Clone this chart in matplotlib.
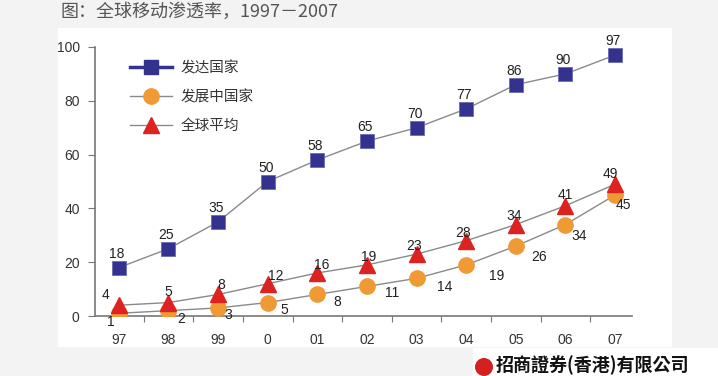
import matplotlib
matplotlib.use("Agg")
import matplotlib.pyplot as plt
from matplotlib.lines import Line2D
from matplotlib.patches import Rectangle, Ellipse

# data
years = ["97", "98", "99", "0", "01", "02", "03", "04", "05", "06", "07"]
developed = [18, 25, 35, 50, 58, 65, 70, 77, 86, 90, 97]
developing = [1, 2, 3, 5, 8, 11, 14, 19, 26, 34, 45]
world = [4, 5, 8, 12, 16, 19, 23, 28, 34, 41, 49]
series_names = ["发达国家", "发展中国家", "全球平均"]
title = "图：全球移动渗透率，1997－2007"
company = "招商證券(香港)有限公司"

NAVY = "#33338f"
ORANGE = "#f09a36"
RED = "#dd2222"
LINE = "#8a8a8a"

plt.rcParams["font.family"] = ["Liberation Sans", "Noto Sans CJK SC", "DejaVu Sans"]

fig = plt.figure(figsize=(7.18, 3.76), dpi=100)
fig.patch.set_facecolor("#f3f3f3")
W, H = 718.0, 376.0

# white panels behind the chart and the logo
fig.add_artist(Rectangle((58 / W, 1 - 347 / H), (672 - 58) / W, (347 - 28) / H,
                         transform=fig.transFigure, facecolor="white",
                         edgecolor="none", zorder=-5))
fig.add_artist(Rectangle((473 / W, 0), (718 - 473) / W, (376 - 348) / H,
                         transform=fig.transFigure, facecolor="white",
                         edgecolor="none", zorder=-5))

ax = fig.add_axes([95 / W, 1 - 316 / H, (632 - 95) / W, (316 - 47) / H])
ax.set_facecolor("none")
x = list(range(len(years)))

ax.plot(x, developed, color=LINE, lw=1, zorder=2)
ax.plot(x, developing, color=LINE, lw=1, zorder=2)
ax.plot(x, world, color=LINE, lw=1, zorder=2)
ax.plot(x, developing, ls="none", marker="o", ms=11, mfc=ORANGE, mec=ORANGE, zorder=3)
ax.plot(x, world, ls="none", marker="^", ms=12, mfc=RED, mec=RED, zorder=4)
ax.plot(x, developed, ls="none", marker="s", ms=10, mfc=NAVY, mec="#6a6ab0",
        mew=0.6, zorder=5)

# value labels (offsets in pixels)
for i, v in enumerate(developed):
    ax.annotate(str(v), (i, v), xytext=(-2, 14), textcoords="offset pixels",
                ha="center", va="center", fontsize=10, color="#222222", zorder=6)

dev_off = [(-8, -9), (13, -8), (10, -7), (17, -7), (20, -8), (25, -7),
           (28, -9), (30, -11), (23, -11), (14, -11), (8, -10)]
for i, v in enumerate(developing):
    ax.annotate(str(v), (i, v), xytext=dev_off[i], textcoords="offset pixels",
                ha="center", va="center", fontsize=10, color="#222222", zorder=6)

world_off = [(-13, 10), (0, 11), (3, 9), (8, 8), (4, 8), (2, 8),
             (-3, 8), (-3, 8), (-2, 9), (0, 11), (-5, 10)]
for i, v in enumerate(world):
    ax.annotate(str(v), (i, v), xytext=world_off[i], textcoords="offset pixels",
                ha="center", va="center", fontsize=10, color="#222222", zorder=6)

ax.set_xlim(-0.48, 10.34)
ax.set_ylim(0, 100)
ax.set_yticks(range(0, 101, 20))
ax.set_xticks(x)
ax.set_xticklabels(years)
ax.set_xticks([i + 0.5 for i in range(10)], minor=True)
ax.tick_params(axis="x", which="major", length=0, pad=12, labelsize=10, labelcolor="#333333")
ax.tick_params(axis="x", which="minor", length=4, width=0.8, color="#777777", direction="out")
ax.tick_params(axis="y", length=5, width=0.8, color="#777777", pad=6,
               labelsize=10, labelcolor="#333333")
for s in ["top", "right"]:
    ax.spines[s].set_visible(False)
for s in ["left", "bottom"]:
    ax.spines[s].set_color("#777777")
    ax.spines[s].set_linewidth(1.2)

handles = [
    Line2D([], [], color=NAVY, lw=2.5, marker="s", ms=10, mfc=NAVY, mec=NAVY),
    Line2D([], [], color=LINE, lw=1, marker="o", ms=11, mfc=ORANGE, mec=ORANGE),
    Line2D([], [], color=LINE, lw=1, marker="^", ms=12, mfc=RED, mec=RED),
]
leg = ax.legend(handles, series_names, loc="upper left",
                bbox_to_anchor=((130 - 95) / (632 - 95), 1 - (61 - 47) / (316 - 47)),
                frameon=False, handlelength=2.9, handletextpad=0.55,
                labelspacing=1.0, borderaxespad=0, borderpad=0,
                prop={"family": ["Noto Sans CJK SC"], "size": 10.5})
for t in leg.get_texts():
    t.set_color("#333333")

fig.text(60 / W, 1 - 12 / H, title, ha="left", va="center", fontsize=13,
         color="#555555", family=["Noto Sans CJK SC", "DejaVu Sans"])

# logo at the bottom right
fig.add_artist(Ellipse((484 / W, 1 - 367 / H), 18 / W, 18 / H, transform=fig.transFigure,
                       facecolor="#d42020", edgecolor="none", zorder=1))
fig.text(496 / W, 1 - 365 / H, company, ha="left", va="center", fontsize=13,
         fontweight="bold", color="#111111", family=["Noto Sans CJK TC"])

fig.savefig("out.png", dpi=100, facecolor=fig.get_facecolor())
